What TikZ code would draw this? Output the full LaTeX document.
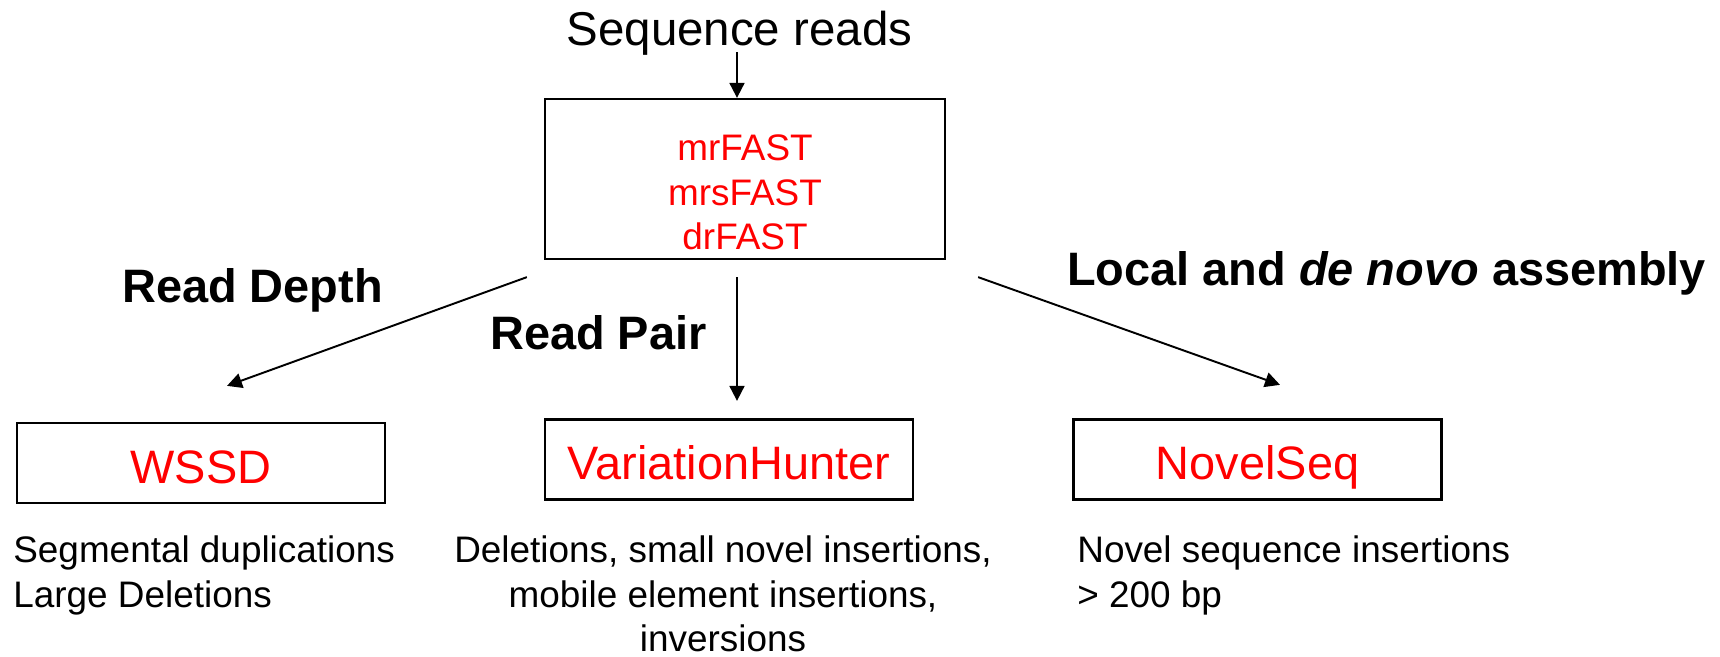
\documentclass[tikz,border=0pt]{standalone}
\usepackage{fontspec}
\setmainfont{Liberation Sans}
\usetikzlibrary{positioning, arrows.meta}

\begin{document}
\begin{tikzpicture}
  \tikzstyle{tool} = [rectangle, draw=black, line width=1.3pt, minimum width=7.36cm, minimum height=1.6cm,
    text=red, text height=0.85cm, text depth=0.05cm, font=\fontsize{26.7pt}{32pt}\selectfont]
  \tikzstyle{method} = [inner sep=0pt, anchor=base, font=\fontsize{26.7pt}{32pt}\selectfont\bfseries]
  \tikzstyle{result} = [inner sep=0pt, font=\fontsize{21pt}{25.4pt}\selectfont]
  \tikzstyle{flow} = [line width=1.1pt, -{Triangle[length=8.5pt, width=8.5pt]}]

  \useasboundingbox (0,0) rectangle (34.4,13.12);

  % Entrada
  \node[inner sep=0pt, anchor=base, font=\fontsize{27pt}{32pt}\selectfont] (reads) at (14.79,12.22) {Sequence reads};

  % Alineadores
  \node[rectangle, draw=black, line width=1.3pt, minimum width=8cm, minimum height=3.2cm] (mapper) at (14.9,9.54) {};
  \node[result, text=red, align=center, below=0.73cm of mapper.north] (mappers) {mrFAST\\mrsFAST\\drFAST};

  % Metodos
  \node[method] (depth) at (5.05,7.08) {Read Depth};
  \node[method] (pair) at (11.97,6.14) {Read Pair};
  \node[method] (assembly) at (27.73,7.42) {Local and \textit{de novo} assembly};

  % Herramientas
  \node[tool] (wssd) at (4.02,3.86) {WSSD};
  \node[tool] (vhunter) at (14.58,3.93) {VariationHunter};
  \node[tool] (novelseq) at (25.15,3.93) {NovelSeq};

  % Resultados
  \node[result, align=left, anchor=north west] (wssdout) at (0.26,2.41) {Segmental duplications\\Large Deletions};
  \node[result, align=center, anchor=north] (vhunterout) at (14.46,2.41) {Deletions, small novel insertions,\\mobile element insertions,\\inversions};
  \node[result, align=left, anchor=north west] (novelseqout) at (21.54,2.41) {Novel sequence insertions\\> 200 bp};

  % Flechas
  \draw[flow] ([xshift=-0.05cm, yshift=0.06cm]reads.south) -- ([xshift=-0.16cm]mapper.north);
  \draw[flow] ([shift={(-0.34,-0.34)}]mapper.south west) -- ([shift={(0.52,0.72)}]wssd.north);
  \draw[flow] ([shift={(-0.16,-0.34)}]mapper.south) -- ([shift={(0.16,0.35)}]vhunter.north);
  \draw[flow] ([shift={(0.64,-0.34)}]mapper.south east) -- ([shift={(0.45,0.67)}]novelseq.north);
\end{tikzpicture}
\end{document}
